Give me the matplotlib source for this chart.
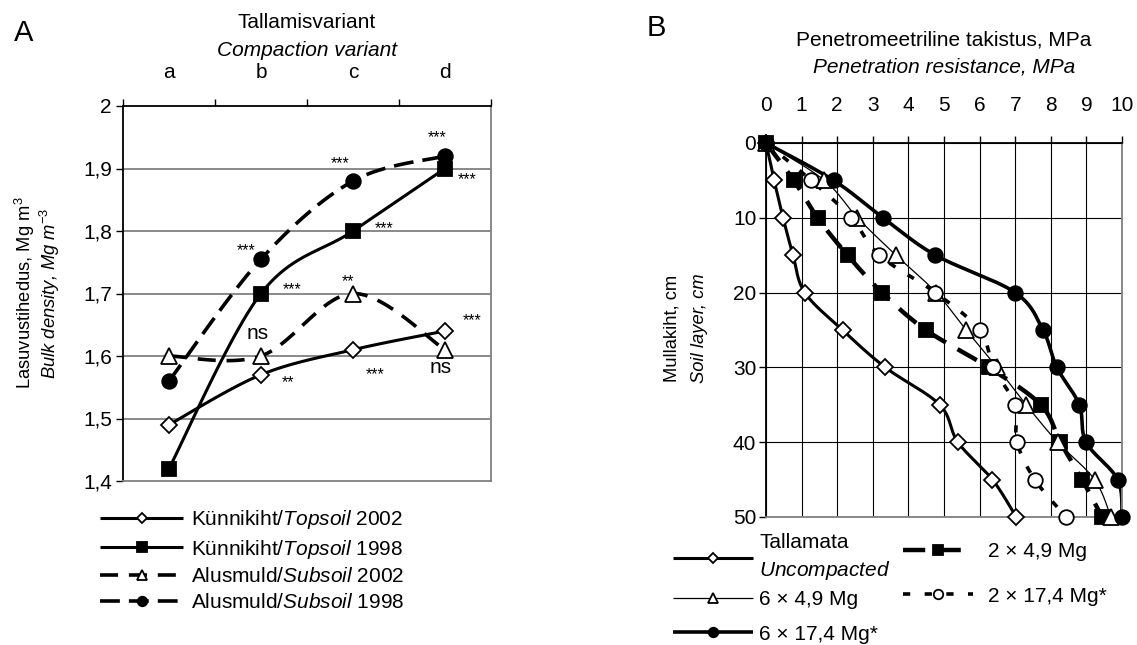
import numpy as np
import matplotlib.pyplot as plt
from matplotlib.legend_handler import HandlerTuple

plt.rcParams['font.family'] = 'Liberation Sans'
plt.rcParams['mathtext.fontset'] = 'custom'
plt.rcParams['mathtext.rm'] = 'Liberation Sans'
plt.rcParams['mathtext.it'] = 'Liberation Sans:italic'
plt.rcParams['font.size'] = 15

# ---- panel A: bulk density by compaction variant
variants = ['a', 'b', 'c', 'd']
topsoil_2002 = [1.49, 1.57, 1.61, 1.64]
topsoil_1998 = [1.42, 1.70, 1.80, 1.90]
subsoil_2002 = [1.60, 1.60, 1.70, 1.61]
subsoil_1998 = [1.56, 1.755, 1.88, 1.92]
sig_topsoil_2002 = ['', '**', '***', '***']
sig_topsoil_1998 = ['', '***', '***', '***']
sig_subsoil_2002 = ['', 'ns', '**', 'ns']
sig_subsoil_1998 = ['', '***', '***', '***']
a_yticks = [1.4, 1.5, 1.6, 1.7, 1.8, 1.9, 2.0]
a_yticklabels = ['1,4', '1,5', '1,6', '1,7', '1,8', '1,9', '2']

# ---- panel B: penetration resistance by depth
depth = [0, 5, 10, 15, 20, 25, 30, 35, 40, 45, 50]
uncompacted = [0, 0.23, 0.48, 0.76, 1.09, 2.15, 3.35, 4.88, 5.39, 6.36, 7.03]
c2x49 = [0, 0.78, 1.45, 2.29, 3.26, 4.49, 6.26, 7.72, 8.27, 8.88, 9.44]
c6x49 = [0, 1.64, 2.57, 3.65, 4.78, 5.62, 6.49, 7.31, 8.19, 9.23, 9.69]
c2x174 = [0, 1.27, 2.40, 3.18, 4.76, 6.00, 6.39, 6.99, 7.05, 7.55, 8.43]
c6x174 = [0, 1.90, 3.29, 4.76, 7.00, 7.78, 8.17, 8.80, 8.99, 9.88, 10.0]

W, H = 1137, 645
fig = plt.figure(figsize=(W / 100, H / 100), dpi=100)


def px(x, y):
    return x / W, 1 - y / H


def smooth(ax, xs, ys, n=30):
    # Excel-like smoothed line through the points (drawn in screen space)
    pts = ax.transData.transform(np.column_stack([xs, ys]))
    out = []
    for i in range(len(pts) - 1):
        p0 = pts[max(i - 1, 0)]
        p1, p2 = pts[i], pts[i + 1]
        p3 = pts[min(i + 2, len(pts) - 1)]
        c1 = p1 + (p2 - p0) / 6
        c2 = p2 - (p3 - p1) / 6
        t = np.linspace(0, 1, n)[:, None]
        seg = (1 - t) ** 3 * p1 + 3 * (1 - t) ** 2 * t * c1 + 3 * (1 - t) * t ** 2 * c2 + t ** 3 * p2
        out.append(seg if i == 0 else seg[1:])
    out = ax.transData.inverted().transform(np.vstack(out))
    return out[:, 0], out[:, 1]


# ================= Panel A =================
axA = fig.add_axes([123 / W, 1 - 481 / H, 368 / W, 375 / H])
xa = np.arange(len(variants))
axA.set_xlim(-0.5, 3.5)
axA.set_ylim(1.4, 2.0)
axA.set_yticks(a_yticks)
axA.set_yticklabels(a_yticklabels)
axA.set_xticks(np.arange(-0.5, 4, 1))
axA.set_xticklabels([])
axA.set_xticks(xa, minor=True)
axA.set_xticklabels(variants, minor=True)
axA.xaxis.tick_top()
axA.tick_params(axis='x', which='major', direction='out', length=5, width=1)
axA.tick_params(axis='x', which='minor', length=0, pad=17)
axA.tick_params(axis='y', direction='out', length=5, width=1, pad=3)
for y in a_yticks[1:-1]:
    axA.axhline(y, color='#808080', lw=1.3, zorder=0)
axA.spines['left'].set_color('black')
axA.spines['top'].set_color('black')
axA.spines['right'].set_color('#808080')
axA.spines['bottom'].set_color('#808080')
for s in axA.spines.values():
    s.set_linewidth(1.3)

a_series = [
    (topsoil_2002, sig_topsoil_2002, dict(ls='-', lw=2.2), dict(marker='D', mfc='white', ms=8.5),
     'Künnikiht/$\\mathit{Topsoil}$ 2002'),
    (topsoil_1998, sig_topsoil_1998, dict(ls='-', lw=2.2), dict(marker='s', mfc='black', ms=10),
     'Künnikiht/$\\mathit{Topsoil}$ 1998'),
    (subsoil_2002, sig_subsoil_2002, dict(ls=(0, (5, 3)), lw=2.6), dict(marker='^', mfc='white', ms=11),
     'Alusmuld/$\\mathit{Subsoil}$ 2002'),
    (subsoil_1998, sig_subsoil_1998, dict(ls=(0, (5.5, 2.5)), lw=2.6), dict(marker='o', mfc='black', ms=10.5),
     'Alusmuld/$\\mathit{Subsoil}$ 1998'),
]
# significance label offsets (pixels, up positive) from each point
sig_offsets = [
    [None, (27, -8), (22, -25), (27, 10)],
    [None, (31, 4), (31, 2), (22, -11)],
    [None, (-3, 22), (-5, 12), (-4, -18)],
    [None, (-15, 8), (-13, 17), (-8, 18)],
]
handlesA, labelsA = [], []
for (vals, sigs, lstyle, mstyle, label), offs in zip(a_series, sig_offsets):
    sx, sy = smooth(axA, xa, vals)
    ln, = axA.plot(sx, sy, color='black', solid_capstyle='butt', dash_capstyle='butt', **lstyle)
    mk, = axA.plot(xa, vals, ls='none', mec='black', mew=1.3, clip_on=False, zorder=3, **mstyle)
    handlesA.append((ln, mk))
    labelsA.append(label)
    for xi, v, s, o in zip(xa, vals, sigs, offs):
        if not s:
            continue
        fs = 15 if s == 'ns' else 11.5
        axA.annotate(s, (xi, v), xytext=(o[0] * 0.72, o[1] * 0.72),
                     textcoords='offset points', ha='center', va='center', fontsize=fs)

fig.legend(handlesA, labelsA, handler_map={tuple: HandlerTuple(ndivide=1)},
           loc='upper left', bbox_to_anchor=px(100, 508), frameon=False,
           borderpad=0, borderaxespad=0, handlelength=4.0, handletextpad=0.35,
           labelspacing=0.32, markerscale=0.65, fontsize=15)

fig.text(*px(14, 33), 'A', fontsize=21, va='center', ha='left')
fig.text(*px(307, 23), 'Tallamisvariant', ha='center', va='center')
fig.text(*px(307, 51), 'Compaction variant', style='italic', ha='center', va='center')
fig.text(*px(25, 293), 'Lasuvustihedus, Mg m$^{3}$', fontsize=13.2, rotation=90, ha='center', va='center')
fig.text(*px(50, 293), 'Bulk density, Mg m$^{-3}$', fontsize=13.2, style='italic', rotation=90,
         ha='center', va='center')

# ================= Panel B =================
axB = fig.add_axes([766 / W, 1 - 517 / H, 356 / W, 374 / H])
axB.set_xlim(0, 10)
axB.set_ylim(50, 0)
axB.set_xticks(range(0, 11))
axB.set_yticks(range(0, 51, 10))
axB.xaxis.tick_top()
axB.tick_params(axis='x', direction='out', length=5, width=1, pad=15)
axB.tick_params(axis='y', direction='out', length=5, width=1, pad=2)
axB.grid(True, color='black', lw=0.8, zorder=0)
axB.spines['left'].set_color('black')
axB.spines['top'].set_color('black')
axB.spines['right'].set_color('#808080')
axB.spines['bottom'].set_color('#808080')
for s in axB.spines.values():
    s.set_linewidth(1.3)
axB.set_axisbelow(True)

b_series = [
    (uncompacted, dict(ls='-', lw=2.2), dict(marker='D', mfc='white', ms=8.5), 'Tallamata\n$\\mathit{Uncompacted}$'),
    (c2x49, dict(ls=(0, (5, 3)), lw=3.2), dict(marker='s', mfc='black', ms=10.5), '2 × 4,9 Mg'),
    (c6x49, dict(ls='-', lw=0.9), dict(marker='^', mfc='white', ms=11), '6 × 4,9 Mg'),
    (c2x174, dict(ls=(0, (2, 4)), lw=2.6), dict(marker='o', mfc='white', ms=10.5), '2 × 17,4 Mg*'),
    (c6x174, dict(ls='-', lw=2.6), dict(marker='o', mfc='black', ms=10.5), '6 × 17,4 Mg*'),
]
handlesB = []
for xs, lstyle, mstyle, label in b_series:
    sx, sy = smooth(axB, xs, depth)
    ln, = axB.plot(sx, sy, color='black', solid_capstyle='butt', dash_capstyle='butt', **lstyle)
    mk, = axB.plot(xs, depth, ls='none', mec='black', mew=1.3, clip_on=False, zorder=3, **mstyle)
    handlesB.append(((ln, mk), label))

leg_kw = dict(handler_map={tuple: HandlerTuple(ndivide=1)}, loc='upper left', frameon=False,
              borderpad=0, borderaxespad=0, markerscale=0.65, fontsize=15)
legT = fig.legend([handlesB[0][0]], [handlesB[0][1]], bbox_to_anchor=px(673, 533),
                  handlelength=3.85, handletextpad=0.3, **leg_kw)
legT.get_texts()[0].set_linespacing(1.4)
fig.legend([handlesB[2][0], handlesB[4][0]], [handlesB[2][1], handlesB[4][1]],
           bbox_to_anchor=px(673, 590), handlelength=3.85, handletextpad=0.3,
           labelspacing=0.75, **leg_kw)
fig.legend([handlesB[1][0], handlesB[3][0]], [handlesB[1][1], handlesB[3][1]],
           bbox_to_anchor=px(903, 542), handlelength=3.37, handletextpad=0.72,
           labelspacing=1.23, **leg_kw)

fig.text(*px(647, 28), 'B', fontsize=21, va='center', ha='left')
fig.text(*px(944, 40), 'Penetromeetriline takistus, MPa', ha='center', va='center')
fig.text(*px(944, 67), 'Penetration resistance, MPa', style='italic', ha='center', va='center')
fig.text(*px(672, 328), 'Mullakiht, cm', fontsize=13.2, rotation=90, ha='center', va='center')
fig.text(*px(699, 328), 'Soil layer, cm', fontsize=13.2, style='italic', rotation=90, ha='center', va='center')

fig.savefig('out.png', dpi=100)
